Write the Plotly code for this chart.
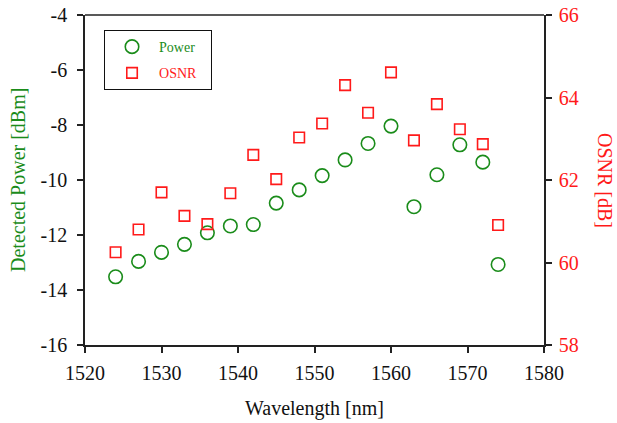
import plotly.graph_objects as go

wavelength = [1524, 1527, 1530, 1533, 1536, 1539, 1542, 1545, 1548, 1551, 1554, 1557, 1560, 1563, 1566, 1569, 1572, 1574]
power_dbm = [-13.52, -12.96, -12.63, -12.34, -11.92, -11.67, -11.62, -10.84, -10.36, -9.84, -9.27, -8.67, -8.04, -10.97, -9.81, -8.72, -9.35, -13.07]
osnr_db = [60.25, 60.80, 61.70, 61.13, 60.93, 61.68, 62.61, 62.02, 63.03, 63.37, 64.30, 63.63, 64.61, 62.96, 63.84, 63.23, 62.87, 60.91]

power_ticks = [-16, -14, -12, -10, -8, -6, -4]
power_tick_labels = ["-16", "-14", "-12", "-10", "-8", "-6", "-4"]

GREEN = "#1a8c1a"
RED = "#ff1a1a"
FONT = "Times New Roman, Liberation Serif, DejaVu Serif, serif"
FS = 20

fig = go.Figure()
fig.add_trace(go.Scatter(
    x=wavelength, y=power_dbm, mode="markers", legendgroup="p",
    name="<span style='color:%s'>Power</span>&nbsp;&nbsp;&nbsp;" % GREEN,
    marker=dict(symbol="circle-open", size=13.5, color=GREEN, line=dict(width=1.6, color=GREEN)),
))
fig.add_trace(go.Scatter(
    x=wavelength, y=osnr_db, mode="markers", yaxis="y2", legendgroup="o",
    name="<span style='color:%s'>OSNR</span>" % RED,
    marker=dict(symbol="square-open", size=10.5, color=RED, line=dict(width=1.6, color=RED)),
))

axis_line = dict(showline=True, linecolor="#222", linewidth=1.5, ticks="outside",
                 ticklen=6, tickwidth=1.5, tickcolor="#222", showgrid=False,
                 zeroline=False, automargin=False)

fig.update_layout(
    width=617, height=423,
    margin=dict(l=85, r=73, t=15, b=78),
    plot_bgcolor="white", paper_bgcolor="white",
    font=dict(family=FONT, size=FS, color="#111"),
    showlegend=True,
    legend=dict(x=0.041, y=0.955, xanchor="left", yanchor="top",
                bordercolor="#111", borderwidth=1.2, bgcolor="white",
                font=dict(family=FONT, size=14), tracegroupgap=5, itemwidth=44),
    xaxis=dict(range=[1520, 1580], dtick=10, mirror=False,
               tickfont=dict(family=FONT, size=FS), ticklabelstandoff=3,
               **axis_line),
    yaxis=dict(range=[-16, -4], tickmode="array", tickvals=power_ticks,
               ticktext=power_tick_labels, tickfont=dict(family=FONT, size=FS),
               ticklabelstandoff=6, **axis_line),
    yaxis2=dict(range=[58, 66], dtick=2, overlaying="y", side="right",
                tickfont=dict(color=RED, family=FONT, size=FS), ticklabelstandoff=3,
                **axis_line),
    shapes=[dict(type="line", xref="paper", yref="paper", x0=0, x1=1, y0=1, y1=1,
                 line=dict(color="#222", width=1.5))],
    annotations=[
        dict(text="Wavelength [nm]", xref="paper", yref="paper", x=0.5, y=-0.191,
             xanchor="center", yanchor="middle", showarrow=False,
             font=dict(color="#111", size=FS, family=FONT)),
        dict(text="Detected Power [dBm]", xref="paper", yref="paper", x=-0.146, y=0.5,
             xanchor="center", yanchor="middle", textangle=-90, showarrow=False,
             font=dict(color=GREEN, size=FS, family=FONT)),
        dict(text="OSNR [dB]", xref="paper", yref="paper", x=1.133, y=0.5,
             xanchor="center", yanchor="middle", textangle=90, showarrow=False,
             font=dict(color=RED, size=FS, family=FONT)),
    ],
)

fig.write_html("out.html", config={"displayModeBar": False},
               post_script="document.body.style.margin='0px';document.body.style.padding='0px';")
